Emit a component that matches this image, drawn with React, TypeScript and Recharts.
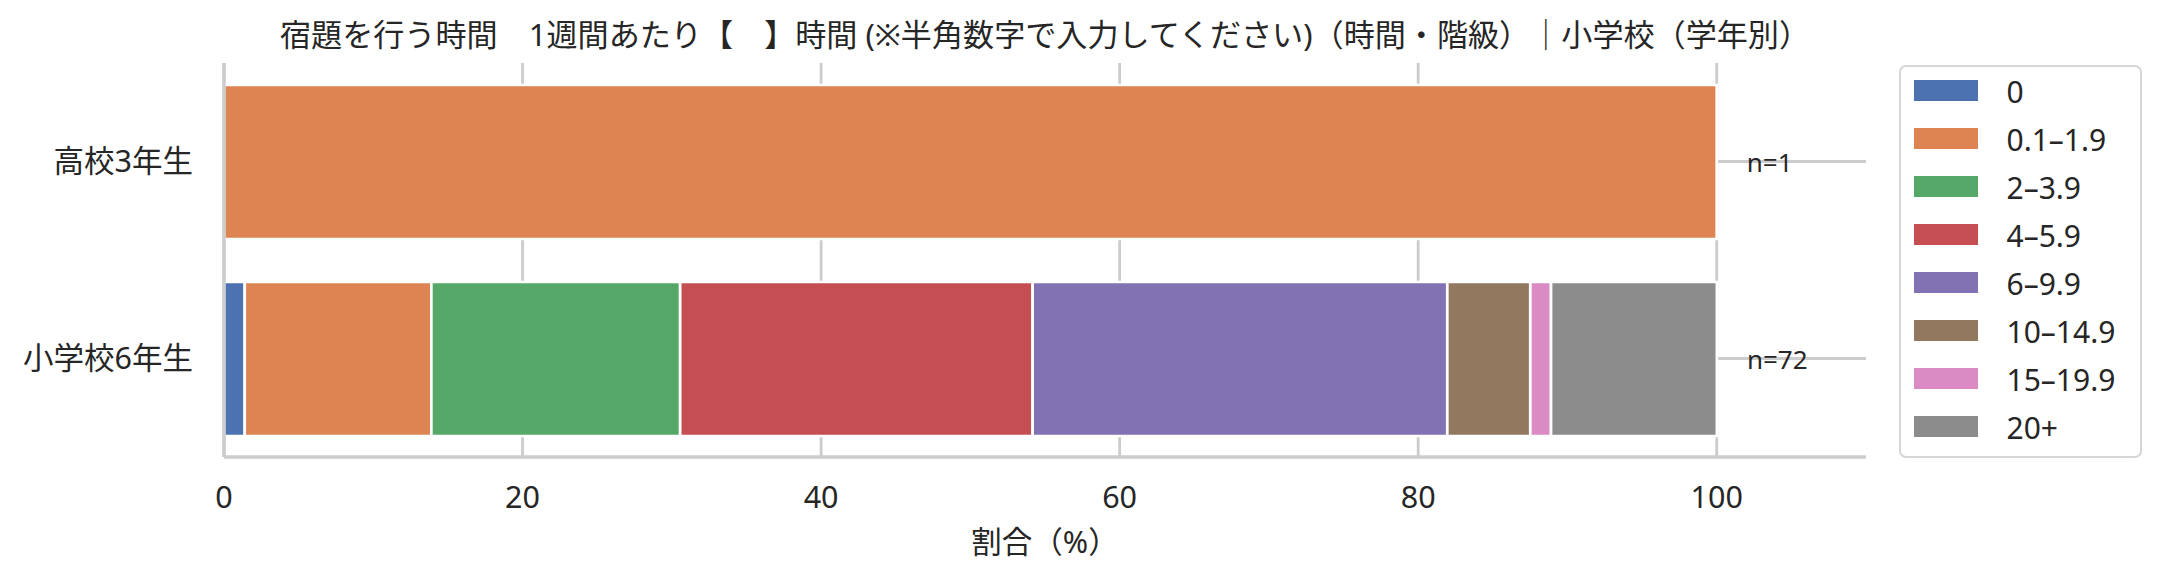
import React from "react";
import {
  BarChart,
  Bar,
  XAxis,
  YAxis,
  CartesianGrid,
  Legend,
  LabelList,
} from "recharts";

const FONT = "'Noto Sans', 'Noto Sans CJK JP', sans-serif";
const INK = "#262626";
const GRID = "#cccccc";

const TITLE =
  "宿題を行う時間　1週間あたり【　】時間 (※半角数字で入力してください)（時間・階級）｜小学校（学年別）";

const GROUPS = ["高校3年生", "小学校6年生"];
const N_COUNTS = [1, 72];
const BINS = ["0", "0.1–1.9", "2–3.9", "4–5.9", "6–9.9", "10–14.9", "15–19.9", "20+"];
const COLORS = ["#4C72B0", "#DD8452", "#55A868", "#C44E52", "#8172B3", "#937860", "#DA8BC3", "#8C8C8C"];

// share (%) per bin
const SHARE_HIGH3 = [0, 100, 0, 0, 0, 0, 0, 0];
const SHARE_ELEM6 = [1.39, 12.5, 16.67, 23.61, 27.78, 5.56, 1.39, 11.11];

const X_TICKS = [0, 20, 40, 60, 80, 100];

const SHARES = [SHARE_HIGH3, SHARE_ELEM6];

const data = SHARES.map((shares, gi) => {
  const row: Record<string, string | number> = { group: GROUPS[gi], n: N_COUNTS[gi] };
  shares.forEach((v, i) => {
    row[`b${i}`] = v;
  });
  return row;
});

// the n= label hangs off the last non-empty segment of each row
const lastFilled = SHARES.map((shares) => {
  let last = 0;
  shares.forEach((v, i) => {
    if (v > 0) last = i;
  });
  return last;
});

function LegendBox(): React.ReactElement {
  return (
    <div
      style={{
        position: "relative",
        width: 243,
        height: 393,
        boxSizing: "border-box",
        border: "2.5px solid #d6d6d6",
        borderRadius: 7,
        background: "#fff",
        fontFamily: FONT,
        fontSize: 30,
        color: INK,
      }}
    >
      {BINS.map((b, i) => (
        <div key={b}>
          <div
            style={{
              position: "absolute",
              left: 12.5,
              top: 13 + 48 * i,
              width: 64,
              height: 21,
              background: COLORS[i],
            }}
          />
          <div
            style={{
              position: "absolute",
              left: 105.5,
              top: 3.5 + 48 * i,
              height: 42,
              lineHeight: "42px",
              whiteSpace: "nowrap",
            }}
          >
            {b}
          </div>
        </div>
      ))}
    </div>
  );
}

function makeNLabel(binIndex: number) {
  return function NLabel(props: any): React.ReactElement | null {
    const { x, y, width, height, value } = props;
    const gi = GROUPS.indexOf(String(value));
    if (gi < 0 || lastFilled[gi] !== binIndex) return null;
    return (
      <text
        x={Number(x) + Number(width) + 30}
        y={Number(y) + Number(height) / 2}
        dominantBaseline="central"
        fontSize={26}
        fontFamily={FONT}
        fill={INK}
      >
        n={N_COUNTS[gi]}
      </text>
    );
  };
}

export default function App(): React.ReactElement {
  return (
    <div
      style={{
        position: "absolute",
        left: 0,
        top: 0,
        width: 2163,
        height: 578,
        background: "#fff",
        fontFamily: FONT,
      }}
    >
      <div
        style={{
          position: "absolute",
          left: 224,
          width: 1642,
          top: 16,
          lineHeight: "36px",
          fontSize: 31.1,
          textAlign: "center",
          color: INK,
          whiteSpace: "nowrap",
        }}
      >
        {TITLE}
      </div>
      <BarChart
        width={2163}
        height={578}
        data={data}
        layout="vertical"
        margin={{ top: 63, right: 297, bottom: 61, left: 0 }}
        barSize={154}
      >
        <CartesianGrid stroke={GRID} strokeWidth={2.8} syncWithTicks />
        <XAxis
          type="number"
          domain={[0, 110]}
          ticks={X_TICKS}
          height={60}
          tickLine={false}
          tickSize={0}
          tickMargin={29}
          axisLine={{ stroke: GRID, strokeWidth: 3.5 }}
          tick={{ fill: INK, fontSize: 30.5, fontFamily: FONT }}
          label={{
            value: "割合（%）",
            position: "bottom",
            offset: 14,
            fill: INK,
            fontSize: 30.5,
            fontFamily: FONT,
          }}
        />
        <YAxis
          type="category"
          dataKey="group"
          width={224}
          tickLine={false}
          tickSize={0}
          tickMargin={31}
          axisLine={{ stroke: GRID, strokeWidth: 3.5 }}
          tick={{ fill: INK, fontSize: 30.5, fontFamily: FONT }}
        />
        <Legend
          layout="vertical"
          align="center"
          verticalAlign="middle"
          wrapperStyle={{ left: 1899, top: 65, width: 243, height: 393 }}
          content={() => <LegendBox />}
        />
        {BINS.map((b, i) => (
          <Bar
            key={b}
            dataKey={`b${i}`}
            name={b}
            stackId="s"
            fill={COLORS[i]}
            stroke="#ffffff"
            strokeWidth={2.7}
            isAnimationActive={false}
          >
            <LabelList dataKey="group" content={makeNLabel(i)} />
          </Bar>
        ))}
      </BarChart>
    </div>
  );
}
